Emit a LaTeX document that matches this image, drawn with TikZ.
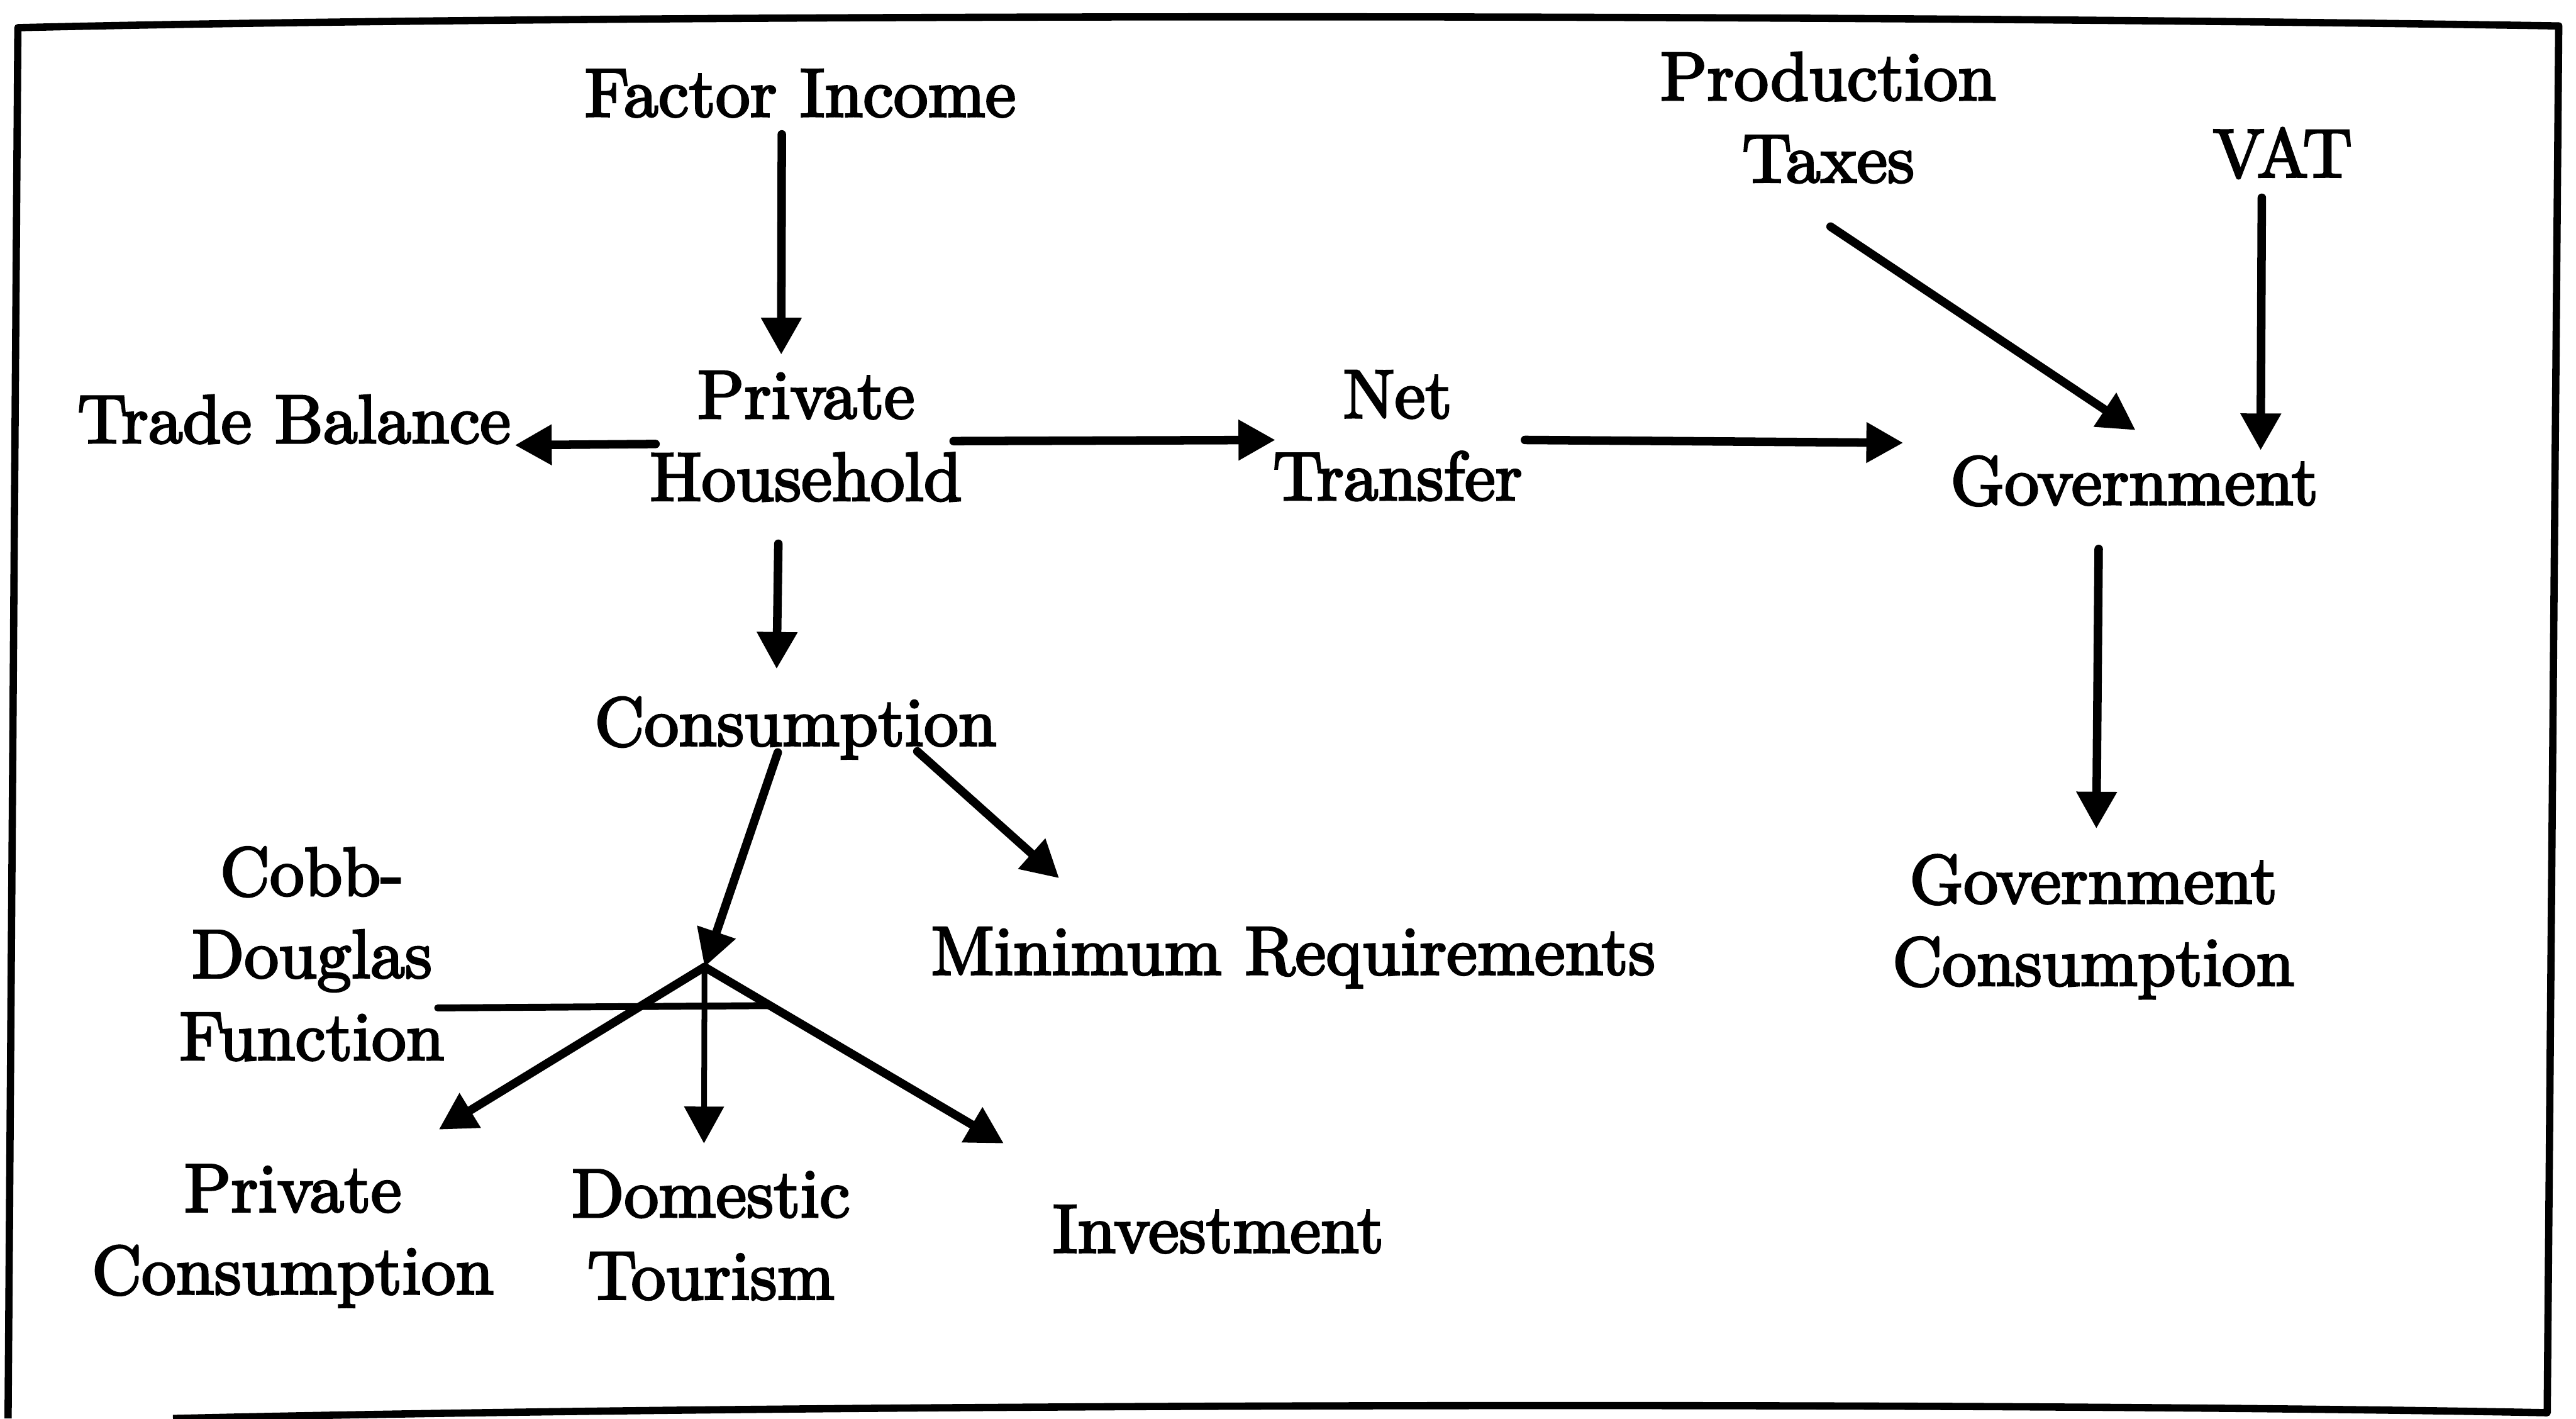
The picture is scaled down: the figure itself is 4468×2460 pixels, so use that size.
\documentclass[tikz,border=0pt]{standalone}
\usepackage{fontspec}
\newfontfamily\labelfont{lmroman10-regular.otf}[FakeBold=3]
\usetikzlibrary{arrows.meta}

\tikzset{
  % base anchor of a multi-line label sits on its last line
  lbl/.style={inner sep=0pt, align=center, anchor=base,
    font=\labelfont\fontsize{17}{20.3}\selectfont},
  flow/.style={line width=2.1pt, line cap=round,
    -{Triangle[length=0.32cm,width=0.335cm]}},
  thinflow/.style={flow, line width=1.4pt},
  crossbar/.style={line width=1.7pt, line cap=round},
  frame/.style={line width=1.8pt, line join=round}
}

\begin{document}
\begin{tikzpicture}[x=0.005cm, y=-0.005cm]
\useasboundingbox (0,0) rectangle (4468,2460);

% outer frame
\draw[frame] (14,2460) -- (31,48) .. controls (1000,25) and (3000,22) .. (4438,45)
  -- (4418,2450) .. controls (3500,2432) and (1500,2432) .. (300,2460);

% labels
\node[lbl] (fi)   at (1388,202)  {Factor Income};
\node[lbl] (ph)   at (1398,868)  {Private\\Household};
\node[lbl] (tb)   at (510,768)   {Trade Balance};
\node[lbl] (nt)   at (2424,867)  {Net\\Transfer};
\node[lbl] (gov)  at (3702,875)  {Government};
\node[lbl] (pt)   at (3171,316)  {Production\\Taxes};
\node[lbl] (vat)  at (3959,307)  {VAT};
\node[lbl] (gc)   at (3631,1709) {Government\\Consumption};
\node[lbl] (cons) at (1380,1293) {Consumption};
\node[lbl] (mr)   at (2243,1690) {Minimum Requirements};
\node[lbl] (cd)   at (541,1838)  {Cobb-\\Douglas\\Function};
\node[lbl] (pc)   at (508,2244)  {Private\\Consumption};
\node[lbl] (dt)   at (1233,2253) {Domestic\\Tourism};
\node[lbl] (inv)  at (2113,2172) {Investment};

% branching point of the Cobb-Douglas split
\coordinate (j) at (1222,1677);

% flows
\draw[flow] ([shift={(-32,31)}]fi.base)   -- ([shift={(-43,-253)}]ph.base);
\draw[flow] ([shift={(-261,-98)}]ph.base) -- ([shift={(383,4)}]tb.base);
\draw[flow] ([shift={(256,-103)}]ph.base) -- ([shift={(-212,-104)}]nt.base);
\draw[flow] ([shift={(221,-104)}]nt.base) -- ([shift={(-401,-107)}]gov.base);
\draw[flow] ([shift={(4,77)}]pt.base)     -- ([shift={(2,-129)}]gov.base);
\draw[flow] ([shift={(-36,36)}]vat.base)  -- ([shift={(219,-94)}]gov.base);
\draw[flow] ([shift={(-62,77)}]gov.base)  -- ([shift={(5,-272)}]gc.base);
\draw[flow] ([shift={(-48,75)}]ph.base)   -- ([shift={(-33,-133)}]cons.base);
\draw[flow] ([shift={(211,10)}]cons.base) -- ([shift={(-406,-167)}]mr.base);
\draw[flow] ([shift={(-31,12)}]cons.base) -- (j);

% Cobb-Douglas split
\draw[flow]     (j) -- ([shift={(253,-285)}]pc.base);
\draw[thinflow] (j) -- ([shift={(-12,-270)}]dt.base);
\draw[flow]     (j) -- ([shift={(-372,-189)}]inv.base);
\draw[crossbar] ([shift={(218,-90)}]cd.base) -- ([shift={(111,67)}]j);
\end{tikzpicture}
\end{document}
